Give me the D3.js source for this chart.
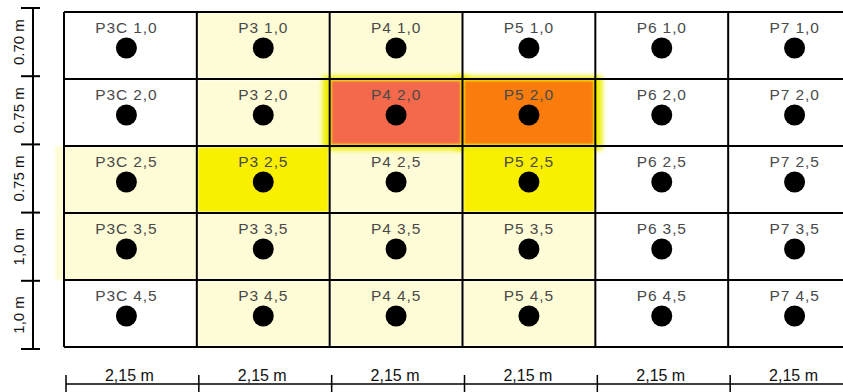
<!DOCTYPE html>
<html><head><meta charset="utf-8">
<script src="https://cdn.jsdelivr.net/npm/d3@7"></script>
<style>body{margin:0;background:#fff}svg{display:block}</style>
</head><body>
<script>
const columns = ["P3C","P3","P4","P5","P6","P7"];
const rows = ["1,0","2,0","2,5","3,5","4,5"];
const rowLabels = ["0.70 m","0.75 m","0.75 m","1,0 m","1,0 m"];
const colLabels = ["2,15 m","2,15 m","2,15 m","2,15 m","2,15 m","2,15 m"];
// heat level per row (rows) and column (columns)
const levels = [
  [0,1,1,0,0,0],
  [0,1,4,3,0,0],
  [1,2,1,2,0,0],
  [1,1,1,1,0,0],
  [0,1,1,1,0,0]
];
const levelColors = ["#ffffff","#fefcd6","#f8f000","#f97b0e","#f4674b"];

const W=843,H=392;
const svg=d3.select("body").append("svg").attr("width",W).attr("height",H);
const defs=svg.append("defs");
defs.append("filter").attr("id","soft").attr("x","-20%").attr("y","-20%").attr("width","140%").attr("height","140%")
  .append("feGaussianBlur").attr("stdDeviation",1.2);
defs.append("filter").attr("id","glow").attr("x","-20%").attr("y","-30%").attr("width","140%").attr("height","160%")
  .append("feGaussianBlur").attr("stdDeviation",2.5);

const x=d3.scaleBand().domain(columns).range([64,861]).padding(0);
const y=d3.scaleBand().domain(rows).range([12,347]).padding(0);
const color=d3.scaleOrdinal().domain([0,1,2,3,4]).range(levelColors);

const cells=[];
rows.forEach((r,i)=>columns.forEach((c,j)=>cells.push({r,c,v:levels[i][j]})));

// light glow for first column yellow cells
svg.append("g").selectAll("rect").data(cells.filter(d=>d.v===1 && d.c===columns[0])).join("rect")
  .attr("x",d=>x(d.c)-9).attr("y",d=>y(d.r))
  .attr("width",x.bandwidth()+9).attr("height",y.bandwidth())
  .attr("fill",levelColors[1]).attr("filter","url(#soft)");

svg.append("g").selectAll("rect").data(cells.filter(d=>d.v>0 && d.v<3)).join("rect")
  .attr("x",d=>x(d.c)+1).attr("y",d=>y(d.r)+1)
  .attr("width",x.bandwidth()-2).attr("height",y.bandwidth()-2)
  .attr("fill",d=>color(d.v)).attr("filter","url(#soft)");

// glow around hot cells
svg.append("g").selectAll("rect").data(cells.filter(d=>d.v>=3)).join("rect")
  .attr("x",d=>x(d.c)-7).attr("y",d=>y(d.r)-3)
  .attr("width",x.bandwidth()+14).attr("height",y.bandwidth()+7)
  .attr("fill","#eeee00").attr("filter","url(#glow)");
svg.append("g").selectAll("rect").data(cells.filter(d=>d.v>=3)).join("rect")
  .attr("x",d=>x(d.c)+2).attr("y",d=>y(d.r)+2)
  .attr("width",x.bandwidth()-4).attr("height",y.bandwidth()-4)
  .attr("fill",d=>color(d.v)).attr("filter","url(#soft)");

// grid lines
const grid=svg.append("g").attr("stroke","#000").attr("stroke-width",2);
const xb=columns.map(c=>x(c)).concat([x.range()[1]]);
const yb=rows.map(r=>y(r)).concat([y.range()[1]]);
grid.selectAll(".v").data(xb).join("line").attr("x1",d=>d).attr("x2",d=>d).attr("y1",yb[0]).attr("y2",yb[yb.length-1]);
grid.selectAll(".h").data(yb).join("line").attr("class","h").attr("x1",xb[0]).attr("x2",xb[xb.length-1]).attr("y1",d=>d).attr("y2",d=>d);

// labels and dots
const off=c=>c===columns[0]?-4:0;
const g=svg.append("g");
g.selectAll("text").data(cells).join("text")
  .attr("x",d=>x(d.c)+x.bandwidth()/2+off(d.c)).attr("y",d=>y(d.r)+21)
  .attr("text-anchor","middle").attr("font-family","Liberation Sans, Arial, sans-serif")
  .attr("font-size",15.5).attr("letter-spacing",0.9).attr("fill","#4a4a4a")
  .text(d=>d.c+" "+d.r);
g.selectAll("circle").data(cells).join("circle")
  .attr("cx",d=>x(d.c)+x.bandwidth()/2+off(d.c)).attr("cy",d=>y(d.r)+36)
  .attr("r",10.5).attr("fill","#000");

// left dimension axis
const ly=d3.scaleLinear().domain([0,rows.length]).range([8,349]);
const la=svg.append("g").attr("stroke","#000").attr("stroke-width",2);
la.append("line").attr("x1",33).attr("x2",33).attr("y1",ly(0)).attr("y2",ly(rows.length));
la.selectAll(".t").data(d3.range(rows.length+1)).join("line").attr("x1",21).attr("x2",40).attr("y1",d=>ly(d)).attr("y2",d=>ly(d));
svg.append("g").selectAll("text").data(rowLabels).join("text")
  .attr("transform",(d,i)=>`translate(24,${(ly(i)+ly(i+1))/2}) rotate(-90)`)
  .attr("text-anchor","middle").attr("font-family","Liberation Sans, Arial, sans-serif")
  .attr("font-size",15).attr("fill","#111").text(d=>d);

// bottom dimension axis
const bx=d3.scaleLinear().domain([0,columns.length]).range([66,863]);
const ba=svg.append("g").attr("stroke","#000").attr("stroke-width",1.5);
ba.append("line").attr("x1",bx(0)).attr("x2",W).attr("y1",384).attr("y2",384);
ba.selectAll(".t").data(d3.range(columns.length)).join("line").attr("x1",d=>bx(d)).attr("x2",d=>bx(d)).attr("y1",375).attr("y2",392);
svg.append("g").selectAll("text").data(colLabels).join("text")
  .attr("x",(d,i)=>(bx(i)+bx(i+1))/2-3).attr("y",381)
  .attr("text-anchor","middle").attr("font-family","Liberation Sans Narrow, Liberation Sans, Arial, sans-serif")
  .attr("font-size",16).attr("fill","#111").text(d=>d);
</script>
</body></html>
